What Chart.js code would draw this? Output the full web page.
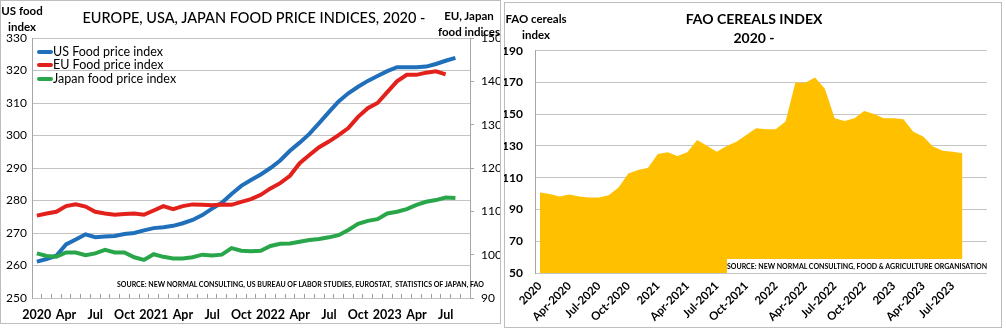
<!DOCTYPE html>
<html>
<head>
<meta charset="utf-8">
<script src="https://cdn.jsdelivr.net/npm/chart.js@4"></script>
<style>
  html, body { margin:0; padding:0; background:#fff; }
  body { width:1006px; height:332px; position:relative; overflow:hidden; font-family:"Lato","Open Sans",sans-serif; color:#000; }
  .panel { position:absolute; border:1px solid #bdbdbd; box-sizing:border-box; }
  canvas { position:absolute; }
  .t { position:absolute; white-space:nowrap; line-height:1; }
  .c { transform:translate(-50%,-50%); text-align:center; }
  .leg { position:absolute; left:37px; font-size:12.5px; line-height:1; }
  .leg div { height:13.5px; display:flex; align-items:center; }
  .leg span.sw { display:inline-block; width:16px; height:4px; border-radius:2px; margin-right:0px; }
</style>
</head>
<body>
<div class="panel" style="left:0;top:0;width:501px;height:324px;"></div>
<div class="panel" style="left:504px;top:2px;width:498px;height:326px;"></div>
<canvas id="c1" width="500" height="324" style="left:0;top:0;"></canvas>
<canvas id="c2" width="497" height="325" style="left:504px;top:2px;"></canvas>

<div class="t c" style="left:254px;top:18px;font-size:14.5px;font-weight:500;">EUROPE, USA, JAPAN FOOD PRICE INDICES, 2020 -</div>
<div class="t c" style="left:22px;top:19px;font-size:11.5px;font-weight:bold;line-height:16px;">US food<br>index</div>
<div class="t c" style="left:469px;top:24px;font-size:11.5px;font-weight:bold;line-height:16px;">EU, Japan<br>food indices</div>
<div class="leg" style="top:45px;">
  <div><span class="sw" style="background:#1f6fba"></span>US Food price index</div>
  <div><span class="sw" style="background:#e3211c"></span>EU Food price index</div>
  <div><span class="sw" style="background:#2aa64a"></span>Japan food price index</div>
</div>
<div class="t" style="left:117px;top:281px;font-size:7px;font-weight:bold;">SOURCE: NEW NORMAL CONSULTING, US BUREAU OF LABOR STUDIES, EUROSTAT,&nbsp; STATISTICS OF JAPAN, FAO</div>

<div class="t c" style="left:754px;top:19px;font-size:14px;font-weight:bold;">FAO CEREALS INDEX</div>
<div class="t c" style="left:754px;top:38px;font-size:14px;font-weight:bold;">2020 -</div>
<div class="t c" style="left:536px;top:27px;font-size:11.5px;font-weight:bold;line-height:16px;">FAO cereals<br>index</div>
<div class="t" style="left:727px;top:259px;width:260px;height:14px;background:#fff;font-size:7px;font-weight:bold;line-height:14px;text-align:center;">SOURCE: NEW NORMAL CONSULTING, FOOD &amp; AGRICULTURE ORGANISATION</div>

<script>
// ---------- DATA ----------
const months = ['Jan-2020','Feb-2020','Mar-2020','Apr-2020','May-2020','Jun-2020','Jul-2020','Aug-2020','Sep-2020','Oct-2020','Nov-2020','Dec-2020',
  'Jan-2021','Feb-2021','Mar-2021','Apr-2021','May-2021','Jun-2021','Jul-2021','Aug-2021','Sep-2021','Oct-2021','Nov-2021','Dec-2021',
  'Jan-2022','Feb-2022','Mar-2022','Apr-2022','May-2022','Jun-2022','Jul-2022','Aug-2022','Sep-2022','Oct-2022','Nov-2022','Dec-2022',
  'Jan-2023','Feb-2023','Mar-2023','Apr-2023','May-2023','Jun-2023','Jul-2023','Aug-2023','Sep-2023','Oct-2023'];

const leftTickLabels = ['2020','Apr','Jul','Oct','2021','Apr','Jul','Oct','2022','Apr','Jul','Oct','2023','Apr','Jul'];
const rightTickLabels = ['2020','Apr-2020','Jul-2020','Oct-2020','2021','Apr-2021','Jul-2021','Oct-2021','2022','Apr-2022','Jul-2022','Oct-2022','2023','Apr-2023','Jul-2023'];

const usFood = [261.2, 262, 263, 266.5, 268, 269.6, 268.7, 268.9, 269.1, 269.7, 270, 270.8,
  271.5, 271.8, 272.2, 273, 274, 275.5, 277.5, 279.3, 282, 284.5, 286.3, 288,
  290, 292.3, 295.3, 297.8, 300.5, 303.8, 307.2, 310.5, 313, 315, 316.8, 318.3,
  319.8, 321, 321, 321, 321.2, 322, 323, 323.9];

const euFood = [109.0, 109.5, 109.9, 111.2, 111.6, 111.1, 109.9, 109.5, 109.2, 109.4, 109.5, 109.2,
  110.2, 111.2, 110.5, 111.2, 111.6, 111.5, 111.4, 111.6, 111.5, 112.2, 112.8, 113.8,
  115.3, 116.5, 118.2, 121.1, 123, 124.8, 126.1, 127.6, 129.2, 131.8, 133.8, 135,
  137.5, 140, 141.5, 141.5, 142, 142.3, 141.6];

const japanFood = [100.3, 99.7, 99.5, 100.5, 100.5, 99.9, 100.3, 101.1, 100.5, 100.5, 99.4, 98.8,
  100.1, 99.5, 99.1, 99.1, 99.4, 100, 99.8, 100, 101.5, 100.9, 100.8, 100.9,
  102, 102.5, 102.6, 103, 103.4, 103.6, 104, 104.5, 105.7, 107.1, 107.8, 108.2,
  109.5, 109.9, 110.5, 111.5, 112.2, 112.6, 113.2, 113.1];

const faoCereals = [100.7, 99.8, 98.1, 99.4, 98.1, 97.5, 97.5, 98.9, 103.9, 112.7, 114.8, 116.3,
  124.9, 126, 123.7, 126, 133.8, 130.2, 126.4, 130, 132.7, 136.9, 141.2, 140.5,
  140.5, 145.4, 170, 169.8, 173.2, 166, 147.5, 145.8, 147.5, 152.1, 150.2, 147.5,
  147.5, 146.8, 139, 135.9, 129.6, 127, 126.4, 125.4];

// ---------- CHARTS ----------
const FONT = '"Lato","Open Sans",sans-serif';
const GRID = '#c4c4c4';
const AXIS = '#a6a6a6';

new Chart(document.getElementById('c1'), {
  type: 'line',
  data: {
    labels: months.slice(0, 45),
    datasets: [
      { label:'US Food price index', data: usFood, yAxisID:'y', borderColor:'#1f6fba', borderWidth:4, pointRadius:0, tension:0, order:2 },
      { label:'EU Food price index', data: euFood, yAxisID:'y1', borderColor:'#e3211c', borderWidth:4, pointRadius:0, tension:0, order:1 },
      { label:'Japan food price index', data: japanFood, yAxisID:'y1', borderColor:'#2aa64a', borderWidth:4, pointRadius:0, tension:0, order:0 }
    ]
  },
  options: {
    responsive:false, animation:false,
    layout: { padding: { top:38, left:0, right:0, bottom:0 } },
    plugins: { legend:{display:false}, tooltip:{enabled:false} },
    scales: {
      x: {
        offset:true,
        grid:{ display:true, drawOnChartArea:false, offset:true, drawTicks:true, tickLength:-4, color:'#9a9a9a' },
        border:{ display:false },
        afterFit: s => { s.height = 26; },
        ticks:{ autoSkip:false, maxRotation:0, minRotation:0, padding:13, color:'#000',
          font:{ family:FONT, size:12.5, weight:'bold' },
          callback: (v, i) => (i % 3 === 0 && leftTickLabels[i/3] !== undefined) ? leftTickLabels[i/3] : '' }
      },
      y: {
        position:'left', min:250, max:330,
        afterFit: s => { s.width = 32; },
        grid:{ color:GRID, drawTicks:false },
        border:{ color:AXIS },
        ticks:{ stepSize:10, padding:5, color:'#000', font:{ family:FONT, size:12 } }
      },
      y1: {
        position:'right', min:90, max:150,
        afterFit: s => { s.width = 30; },
        grid:{ drawOnChartArea:false, color:AXIS, tickLength:4 },
        border:{ color:AXIS },
        ticks:{ stepSize:10, padding:7, color:'#000', font:{ family:FONT, size:12 } }
      }
    }
  }
});

new Chart(document.getElementById('c2'), {
  type: 'line',
  data: {
    labels: months,
    datasets: [
      { label:'FAO cereals index', data: faoCereals, borderWidth:0, borderColor:'#ffc000', backgroundColor:'#ffc000', fill:'start', pointRadius:0, tension:0 }
    ]
  },
  options: {
    responsive:false, animation:false,
    layout: { padding: { top:48.7, left:0, right:14, bottom:0 } },
    plugins: { legend:{display:false}, tooltip:{enabled:false} },
    scales: {
      x: {
        offset:true,
        grid:{ display:false, offset:true, drawTicks:false },
        border:{ display:false },
        afterFit: s => { s.height = 54; },
        ticks:{ autoSkip:false, maxRotation:45, minRotation:45, padding:6, color:'#000',
          font:{ family:FONT, size:11.5, weight:'bold' },
          callback: (v, i) => (i % 3 === 0 && rightTickLabels[i/3] !== undefined) ? rightTickLabels[i/3] : '' }
      },
      y: {
        min:50, max:190,
        afterFit: s => { s.width = 31; },
        grid:{ color:GRID, drawTicks:false },
        border:{ color:AXIS },
        ticks:{ stepSize:20, padding:12, color:'#000', font:{ family:FONT, size:12, weight:'bold' } }
      }
    }
  }
});
</script>
</body>
</html>
